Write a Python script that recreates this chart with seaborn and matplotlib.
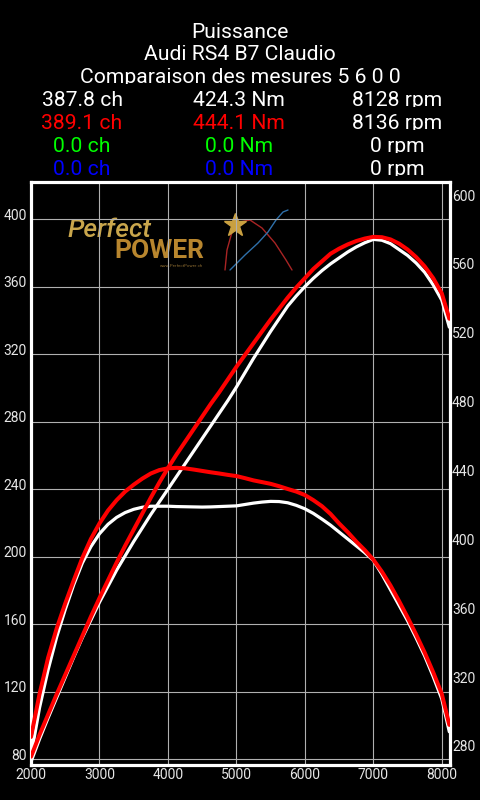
import matplotlib
matplotlib.use("Agg")
import matplotlib.pyplot as plt
import seaborn as sns
import pandas as pd
from matplotlib.transforms import ScaledTranslation
from matplotlib.patches import Rectangle

# ---------------- data ----------------
rpm = [2000, 2125, 2250, 2375, 2500, 2625, 2750, 2875, 3000, 3125, 3250, 3375,
       3500, 3625, 3750, 3875, 4000, 4125, 4250, 4375, 4500, 4625, 4750, 4875,
       5000, 5125, 5250, 5375, 5500, 5625, 5750, 5875, 6000, 6125, 6250, 6375,
       6500, 6625, 6750, 6875, 7000, 7125, 7250, 7375, 7500, 7625, 7750, 7875,
       8000, 8110]
power_white = [78.5, 92, 104.5, 116.5, 128.5, 140.5, 152, 162.5, 173, 182.5, 192, 200.5,
               209, 217, 225, 232.5, 240, 247.5, 255, 262.5, 270, 277.5, 285, 292.5,
               300.5, 309, 317.5, 325.5, 333.5, 341, 348.5, 354.5, 360, 365, 369.5, 373.5,
               377, 380.5, 383.5, 386, 388, 387.5, 385.5, 382, 378.5, 374, 368.5, 361,
               352, 336]
power_red = [81.5, 94.5, 106.5, 118.5, 130, 141.5, 153, 164.5, 175.5, 186, 196.5, 206.5,
             216, 225.5, 235, 244, 252.5, 260.5, 268, 275.5, 283, 290.5, 297.5, 305,
             312.5, 319.5, 326.5, 333.5, 340.5, 347, 353.5, 359.5, 365, 370.5, 375, 379.5,
             382.5, 385, 387, 388.5, 389.5, 389.3, 388, 385.5, 382, 377.5, 372, 365,
             356, 341]
torque_white = [276, 304, 326, 345, 361, 375.5, 388, 397.5, 405, 410.5, 414.5, 417.3,
                419.2, 420.4, 421, 421, 421, 420.8, 420.7, 420.6, 420.5, 420.6, 420.8, 421,
                421.2, 422, 422.8, 423.4, 423.8, 423.7, 423, 421.5, 419.5, 416.8, 413.5, 410,
                406, 402, 398, 394, 389.5, 381.5, 372.5, 363.5, 354.5, 344.5, 334, 322,
                309, 290]
torque_red = [287, 312, 333, 350, 364.5, 378, 391, 402, 411, 418.5, 424.5, 429.5,
              433.5, 437, 440, 442, 443, 443.3, 443, 442.3, 441.5, 440.7, 440, 439.2,
              438.5, 437.3, 436, 435, 434, 432.6, 431, 429.5, 427.5, 424.5, 421, 416.5,
              411, 406, 400.5, 395.5, 390, 383, 375, 366, 356.5, 346.5, 336, 324.5,
              312, 294]

header_lines = ["Puissance", "Audi RS4 B7 Claudio", "Comparaison des mesures 5 6 0 0"]
power_labels = ["387.8 ch", "389.1 ch", "0.0 ch", "0.0 ch"]
torque_labels = ["424.3 Nm", "444.1 Nm", "0.0 Nm", "0.0 Nm"]
rpm_labels = ["8128 rpm", "8136 rpm", "0 rpm", "0 rpm"]
row_colors = ["#ffffff", "#ff0000", "#00ff00", "#0000ff"]

x_ticks = [2000, 3000, 4000, 5000, 6000, 7000, 8000]
power_ticks = [80, 120, 160, 200, 240, 280, 320, 360, 400]
torque_ticks = [280, 320, 360, 400, 440, 480, 520, 560, 600]

# logo decoration
logo_red_x = [225, 227, 232, 240, 250, 262, 275, 286, 292]
logo_red_y = [270, 250, 232, 222, 220, 228, 243, 260, 270]
logo_blue_x = [230, 245, 258, 268, 276, 283, 288]
logo_blue_y = [270, 255, 243, 232, 220, 212, 210]

# ---------------- style ----------------
sns.set_theme(style="dark")
plt.rcParams['font.family'] = ['Roboto', 'DejaVu Sans']
plt.rcParams['axes.unicode_minus'] = False

W, H = 480, 800
fig = plt.figure(figsize=(4.8, 8.0), dpi=100)
fig.patch.set_facecolor("black")

def fx(px):
    return px / W

def fy(py):
    return 1 - py / H

# ---------------- header text ----------------
baselines = [37.7, 60.5, 83.4, 106.3, 129.2, 152.1, 175.0]
fs = 15.2
z = 1
prev = None
for i, b in enumerate(baselines):
    if prev is not None:
        r = Rectangle((0, fy(b - 2)), 1, (b - 2 - (prev + 1)) / H,
                      transform=fig.transFigure, facecolor="black",
                      edgecolor="none", zorder=z)
        fig.add_artist(r)
        z += 1
    if i < 3:
        fig.text(0.5, fy(b), header_lines[i], color="white", fontsize=fs,
                 ha="center", va="baseline", zorder=z)
    else:
        j = i - 3
        fig.text(fx(82), fy(b), power_labels[j], color=row_colors[j],
                 fontsize=fs, ha="center", va="baseline", zorder=z)
        fig.text(fx(239), fy(b), torque_labels[j], color=row_colors[j],
                 fontsize=fs, ha="center", va="baseline", zorder=z)
        fig.text(fx(397), fy(b), rpm_labels[j], color="white",
                 fontsize=fs, ha="center", va="baseline", zorder=z)
    z += 1
    prev = b
r = Rectangle((0, fy(185)), 1, (185 - (prev + 1)) / H,
              transform=fig.transFigure, facecolor="black",
              edgecolor="none", zorder=z)
fig.add_artist(r)

# ---------------- axes ----------------
ax_l, ax_r, ax_t, ax_b = 31, 450, 182, 765
ax = fig.add_axes([fx(ax_l), fy(ax_b), (ax_r - ax_l) / W, (ax_b - ax_t) / H])
ax.set_zorder(20)
ax.set_facecolor("black")
ax2 = ax.twinx()
ax2.set_zorder(21)
ax2.patch.set_visible(False)

ax.set_xlim(2000, 8120)
ax.set_ylim(76.6, 422.0)
ax2.set_ylim(270.7, 609.3)

ax.set_xticks(x_ticks)
ax.set_yticks(power_ticks)
ax2.set_yticks(torque_ticks)
ax.set_axisbelow(True)
ax.grid(True, color="#b0b0b0", linewidth=0.8)
ax2.grid(False)

for s in ax.spines.values():
    s.set_color("white")
    s.set_linewidth(2.3)
    s.set_visible(True)
for s in ax2.spines.values():
    s.set_visible(False)

ax.tick_params(axis="both", length=0, colors="#e6e6e6", labelsize=10)
ax.tick_params(axis="x", pad=2)
ax.tick_params(axis="y", pad=3)
ax2.tick_params(axis="y", length=0, colors="#e6e6e6", labelsize=10, pad=1.5)

# ---------------- curves ----------------
df = pd.DataFrame({"rpm": rpm, "pw": power_white, "pr": power_red,
                   "tw": torque_white, "tr": torque_red})
sns.lineplot(data=df, x="rpm", y="pw", ax=ax2, color="white", linewidth=2.3,
             transform=ax.transData)
sns.lineplot(data=df, x="rpm", y="tw", ax=ax2, color="white", linewidth=2.3)
sns.lineplot(data=df, x="rpm", y="pr", ax=ax2, color="#ff0000", linewidth=2.9,
             transform=ax.transData)
sns.lineplot(data=df, x="rpm", y="tr", ax=ax2, color="#ff0000", linewidth=2.9)
ax2.set_ylim(270.7, 609.3)
ax2.set_xlim(2000, 8120)
for a in (ax, ax2):
    a.set_xlabel("")
    a.set_ylabel("")

# tick label offsets
for lab in ax.get_yticklabels():
    lab.set_transform(lab.get_transform() + ScaledTranslation(0, 5 / 100, fig.dpi_scale_trans))
for lab in ax2.get_yticklabels():
    lab.set_transform(lab.get_transform() + ScaledTranslation(0, 3 / 100, fig.dpi_scale_trans))

# ---------------- logo ----------------
lx0, lx1, ly0, ly1 = 60, 300, 205, 275
lax = ax.inset_axes([(lx0 - ax_l) / (ax_r - ax_l), (ax_b - ly1) / (ax_b - ax_t),
                     (lx1 - lx0) / (ax_r - ax_l), (ly1 - ly0) / (ax_b - ax_t)])
lax.set_zorder(0.2)
lax.set_xlim(lx0, lx1)
lax.set_ylim(ly1, ly0)
lax.axis("off")
lax.patch.set_visible(False)
lax.text(68, 237, "Perfect", color="#c9a64c", fontsize=19, fontstyle="italic",
         fontweight="medium", va="baseline", ha="left")
lax.text(114, 258, "POWER", color="#b8862e", fontsize=19, fontweight="bold",
         va="baseline", ha="left")
lax.text(203, 267, "www.PerfectPower.ch", color="#8a6a30", fontsize=3.2,
         va="baseline", ha="right")
lax.plot(logo_red_x, logo_red_y, color="#a82424", linewidth=1.0)
lax.plot(logo_blue_x, logo_blue_y, color="#2f70aa", linewidth=1.0)
lax.plot([235], [225], marker="*", markersize=17, color="#c9a040",
         markeredgecolor="#c9a040")

fig.savefig("out.png", dpi=100, facecolor="black")
